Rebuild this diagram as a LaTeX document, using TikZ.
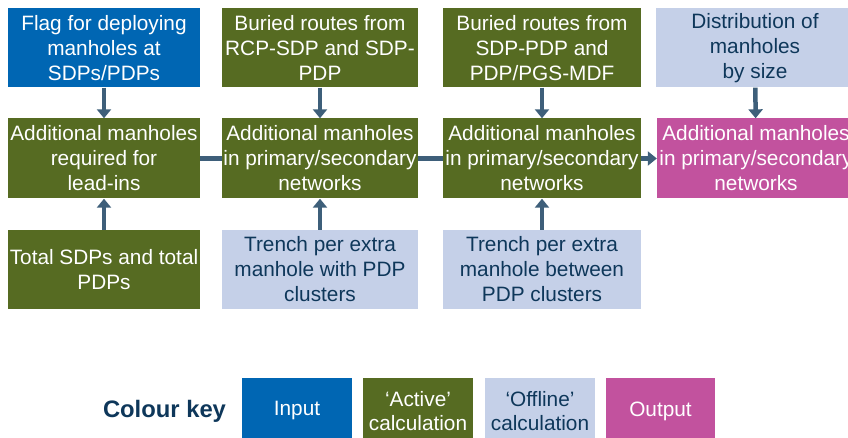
\documentclass[tikz,border=0pt]{standalone}
\usepackage{fontspec}
\setmainfont{Liberation Sans}
\usetikzlibrary{arrows.meta}
\definecolor{cblue}{RGB}{0,102,179}
\definecolor{cgreen}{RGB}{86,107,34}
\definecolor{clight}{RGB}{197,208,232}
\definecolor{cmag}{RGB}{194,82,158}
\definecolor{carrow}{RGB}{62,95,122}
\definecolor{cnavy}{RGB}{14,55,90}
\begin{document}
\begin{tikzpicture}[x=1pt,y=-1pt,
  box/.style={rectangle, inner sep=0pt, align=center, font=\fontsize{20.8}{25}\selectfont, text=white},
  inbox/.style={box, fill=cblue},
  actbox/.style={box, fill=cgreen},
  offbox/.style={box, fill=clight, text=cnavy},
  outbox/.style={box, fill=cmag},
  r1/.style={minimum height=79pt},
  r2/.style={minimum height=80pt},
  r3/.style={minimum height=79pt},
  keybox/.style={minimum width=110pt, minimum height=66pt, font=\fontsize{20.8}{23.5}\selectfont},
  conn/.style={draw=carrow, line width=4.5pt, -{Triangle[width=14pt,length=9pt]}},
  link/.style={draw=carrow, line width=4.5pt}
]
\clip (0,0) rectangle (848,438);
\useasboundingbox (0,0) rectangle (848,438);

% Row 1
\node[inbox, r1, minimum width=192pt] (t1) at (104,48) {Flag for deploying\\manholes at\\SDPs/PDPs};
\node[actbox, r1, minimum width=196pt] (t2) at (320,48) {Buried routes from\\RCP-SDP and SDP-\\PDP};
\node[actbox, r1, minimum width=198pt] (t3) at (542,48) {Buried routes from\\SDP-PDP and\\PDP/PGS-MDF};
\node[offbox, r1, minimum width=198pt] (t4) at (755,48) {Distribution of\\manholes\\by size};

% Row 2
\node[actbox, r2, minimum width=192pt] (m1) at (104,158.5) {Additional manholes\\required for\\lead-ins};
\node[actbox, r2, minimum width=196pt] (m2) at (320,158.5) {Additional manholes\\in primary/secondary\\networks};
\node[actbox, r2, minimum width=198pt] (m3) at (542,158.5) {Additional manholes\\in primary/secondary\\networks};
\node[outbox, r2, minimum width=198pt] (m4) at (756,158.5) {Additional manholes\\in primary/secondary\\networks};

% Row 3
\node[actbox, r3, minimum width=192pt] (b1) at (104,269.5) {Total SDPs and total\\PDPs};
\node[offbox, r3, minimum width=196pt] (b2) at (320,269.5) {Trench per extra\\manhole with PDP\\clusters};
\node[offbox, r3, minimum width=198pt] (b3) at (542,269.5) {Trench per extra\\manhole between\\PDP clusters};

% Connectors
\draw[conn] (t1) -- (m1);
\draw[conn] (t2) -- (m2);
\draw[conn] (t3) -- (m3);
\draw[conn] (t4) -- (m4);
\draw[conn] (b1) -- (m1);
\draw[conn] (b2) -- (m2);
\draw[conn] (b3) -- (m3);
\draw[link] (m1) -- (m2);
\draw[link] (m2) -- (m3);
\draw[conn] (m3) -- (m4);

% Colour key
\node[text=cnavy, font=\fontsize{23.8}{28}\selectfont\bfseries] (keylabel) at (164.5,411) {Colour key};
\node[inbox, keybox] (kin) at (297,411) {Input};
\node[actbox, keybox] (kact) at (418,411) {‘Active’\\calculation};
\node[offbox, keybox] (koff) at (540,411) {‘Offline’\\calculation};
\node[outbox, keybox, minimum width=109pt] (kout) at (660.5,411) {Output};
\end{tikzpicture}
\end{document}
